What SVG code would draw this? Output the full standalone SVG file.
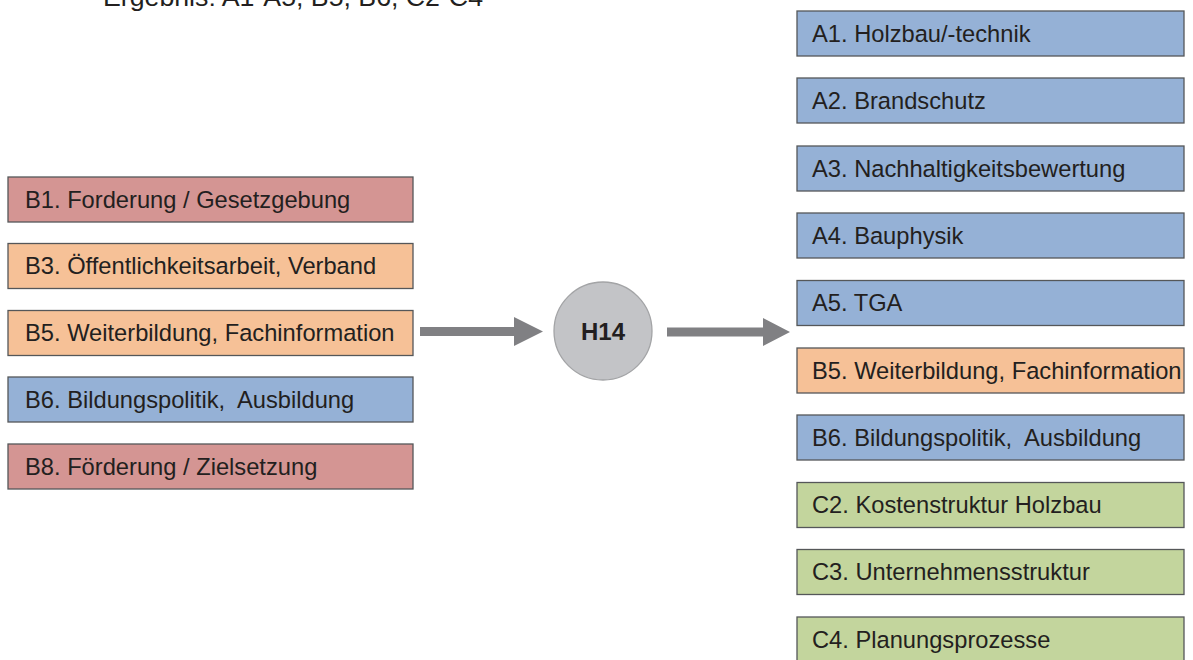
<svg xmlns="http://www.w3.org/2000/svg" width="1193" height="660" viewBox="0 0 1193 660">
<style>
.box{stroke:#555759;stroke-width:1.3}
.red{fill:#d49593}
.org{fill:#f6c197}
.blu{fill:#95b1d6}
.grn{fill:#c3d59d}
.lbl{font-family:"Liberation Sans",Arial,sans-serif;font-size:23.7px;fill:#231f20}
.arr{fill:#808083}
</style>
<rect width="1193" height="660" fill="#ffffff"/>
<text x="103" y="6" class="lbl" style="font-size:26px" textLength="380" lengthAdjust="spacingAndGlyphs">Ergebnis: A1-A5, B5, B6, C2-C4</text>
<g id="left-B1"><rect class="box red" x="8" y="177" width="405" height="45"/><text class="lbl" x="25" y="207.5">B1. Forderung / Gesetzgebung</text></g>
<g id="left-B3"><rect class="box org" x="8" y="243.5" width="405" height="45"/><text class="lbl" x="25" y="274">B3. Öffentlichkeitsarbeit, Verband</text></g>
<g id="left-B5"><rect class="box org" x="8" y="310.5" width="405" height="45"/><text class="lbl" x="25" y="341">B5. Weiterbildung, Fachinformation</text></g>
<g id="left-B6"><rect class="box blu" x="8" y="377" width="405" height="45"/><text class="lbl" x="25" y="407.5">B6. Bildungspolitik,&#160; Ausbildung</text></g>
<g id="left-B8"><rect class="box red" x="8" y="444" width="405" height="45"/><text class="lbl" x="25" y="474.5">B8. Förderung / Zielsetzung</text></g>
<g id="H14"><circle cx="603" cy="331" r="49" fill="#c3c4c7" stroke="#a3a4a6" stroke-width="1.3"/><text x="603" y="340" text-anchor="middle" style="font-family:'Liberation Sans',Arial,sans-serif;font-size:24px;font-weight:bold;fill:#231f20">H14</text></g>
<g id="connectors">
<polygon class="arr" points="420,327 514,327 514,317 543,331.5 514,346 514,336 420,336"/>
<polygon class="arr" points="667,327.5 763,327.5 763,318 790,332 763,346 763,336.5 667,336.5"/>
</g>
<g id="right-A1"><rect class="box blu" x="797" y="11" width="387" height="45"/><text class="lbl" x="812" y="41.5">A1. Holzbau/-technik</text></g>
<g id="right-A2"><rect class="box blu" x="797" y="78" width="387" height="45"/><text class="lbl" x="812" y="108.5">A2. Brandschutz</text></g>
<g id="right-A3"><rect class="box blu" x="797" y="146" width="387" height="45"/><text class="lbl" x="812" y="176.5">A3. Nachhaltigkeitsbewertung</text></g>
<g id="right-A4"><rect class="box blu" x="797" y="213" width="387" height="45"/><text class="lbl" x="812" y="243.5">A4. Bauphysik</text></g>
<g id="right-A5"><rect class="box blu" x="797" y="280.5" width="387" height="45"/><text class="lbl" x="812" y="311">A5. TGA</text></g>
<g id="right-B5"><rect class="box org" x="797" y="348" width="387" height="45"/><text class="lbl" x="812" y="378.5">B5. Weiterbildung, Fachinformation</text></g>
<g id="right-B6"><rect class="box blu" x="797" y="415" width="387" height="45"/><text class="lbl" x="812" y="445.5">B6. Bildungspolitik,&#160; Ausbildung</text></g>
<g id="right-C2"><rect class="box grn" x="797" y="482.5" width="387" height="45"/><text class="lbl" x="812" y="513">C2. Kostenstruktur Holzbau</text></g>
<g id="right-C3"><rect class="box grn" x="797" y="549.5" width="387" height="45"/><text class="lbl" x="812" y="580">C3. Unternehmensstruktur</text></g>
<g id="right-C4"><rect class="box grn" x="797" y="617" width="387" height="45"/><text class="lbl" x="812" y="647.5">C4. Planungsprozesse</text></g>
</svg>
